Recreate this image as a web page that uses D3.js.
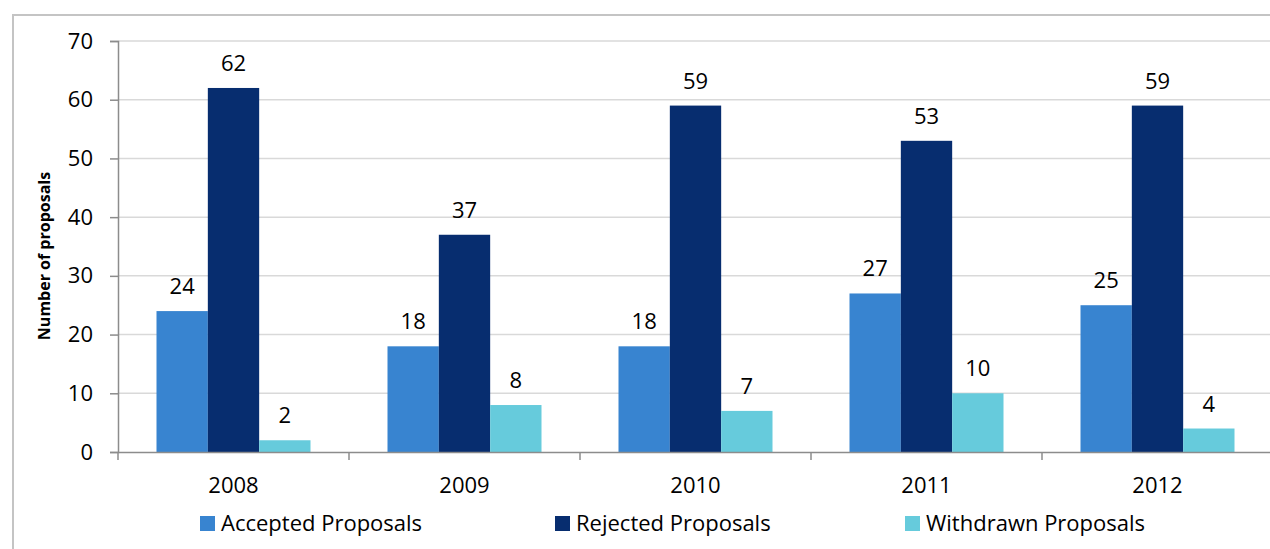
<!DOCTYPE html>
<head>
  <meta charset="utf-8">
  <script src="https://d3js.org/d3.v7.min.js"></script>
  <style>
    body { margin:0; background:#fff; }
    text { font-family: "Open Sans", sans-serif; fill:#000; }
  </style>
</head>
<body>
  <script>
  // ---------- data ----------
    var years = ["2008", "2009", "2010", "2011", "2012"];
    var seriesNames = ["Accepted Proposals", "Rejected Proposals", "Withdrawn Proposals"];
    var accepted = [24, 18, 18, 27, 25];
    var rejected = [62, 37, 59, 53, 59];
    var withdrawn = [2, 8, 7, 10, 4];
    var yTicks = [0, 10, 20, 30, 40, 50, 60, 70];
    var colors = ["#3884d0", "#072d6f", "#66cbdc"];

    var values = [accepted, rejected, withdrawn];

  // ---------- svg ----------
    var svg = d3.select("body").append("svg")
      .attr("width", 1270)
      .attr("height", 549);

    // outer chart border
    svg.append("rect")
      .attr("x", 13).attr("y", 15)
      .attr("width", 1300).attr("height", 600)
      .attr("fill", "none")
      .attr("stroke", "#c4c4c4")
      .attr("stroke-width", 2);

    var x = d3.scaleBand().domain(years).range([118, 1273]);
    var y = d3.scaleLinear().domain([0, 70]).range([452, 41]);
    var barW = x.bandwidth() / 4.5;
    var xs = d3.scaleBand().domain(seriesNames)
      .range([0, barW * 3]);

    // gridlines
    svg.append("g").selectAll("line")
      .data(yTicks.slice(1))
      .join("line")
      .attr("x1", 118).attr("x2", 1273)
      .attr("y1", d => y(d)).attr("y2", d => y(d))
      .attr("stroke", "#d9d9d9")
      .attr("stroke-width", 1.5);

    // bars
    seriesNames.forEach(function(name, i) {
      var g = svg.append("g");
      g.selectAll("rect")
        .data(years)
        .join("rect")
        .attr("x", (d) => x(d) + (x.bandwidth() - barW * 3) / 2 + xs(name))
        .attr("y", (d, j) => y(values[i][j]))
        .attr("width", barW)
        .attr("height", (d, j) => y(0) - y(values[i][j]))
        .attr("fill", colors[i]);

      g.selectAll("text")
        .data(years)
        .join("text")
        .attr("x", (d) => x(d) + (x.bandwidth() - barW * 3) / 2 + xs(name) + barW / 2)
        .attr("y", (d, j) => y(values[i][j]) - 17)
        .attr("text-anchor", "middle")
        .style("font-size", "22px")
        .text((d, j) => values[i][j]);
    });

    // y axis
    var yAxis = svg.append("g")
      .attr("transform", "translate(118,0)")
      .call(d3.axisLeft(y).tickValues(yTicks).tickSize(8).tickPadding(17));
    yAxis.selectAll("line, path").attr("stroke", "#8c8c8c").attr("stroke-width", 1.5);
    yAxis.selectAll("text").style("font-size", "22px").style("font-family", "Open Sans");

    // x axis
    var xAxis = svg.append("g")
      .attr("transform", "translate(0,452)")
      .call(d3.axisBottom(x).tickSize(0).tickPadding(25));
    xAxis.select("path").attr("stroke", "#8c8c8c").attr("stroke-width", 1.5);
    xAxis.selectAll("text").style("font-size", "22px").style("font-family", "Open Sans");
    xAxis.selectAll(".sep")
      .data(years)
      .join("line")
      .attr("class", "sep")
      .attr("x1", d => x(d)).attr("x2", d => x(d))
      .attr("y1", 0).attr("y2", 8)
      .attr("stroke", "#8c8c8c").attr("stroke-width", 1.5);

    // y title
    svg.append("text")
      .attr("transform", "translate(50,256) rotate(-90)")
      .attr("text-anchor", "middle")
      .style("font-size", "16px")
      .style("font-weight", "bold")
      .text("Number of proposals");

    // legend
    var legendX = [200, 555, 905];
    var legend = svg.append("g").selectAll("g")
      .data(seriesNames)
      .join("g")
      .attr("transform", (d, i) => "translate(" + legendX[i] + ",516)");
    legend.append("rect")
      .attr("width", 15).attr("height", 15)
      .attr("fill", (d, i) => colors[i]);
    legend.append("text")
      .attr("x", 21).attr("y", 15)
      .style("font-size", "22px")
      .text(d => d);
  </script>
</body>
